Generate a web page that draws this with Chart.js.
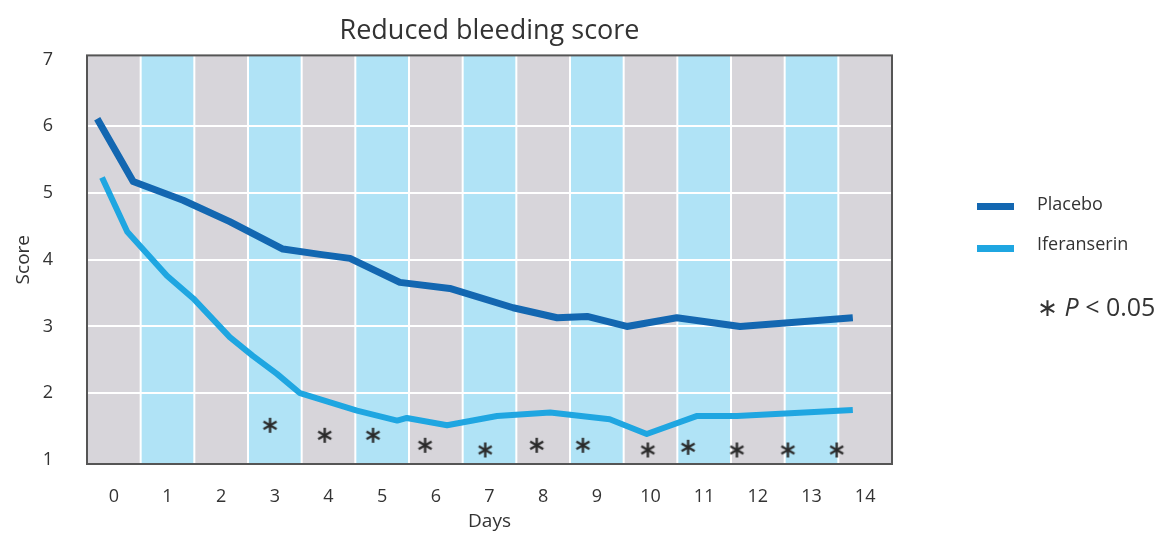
<!DOCTYPE html>
<html>
<head>
<meta charset="utf-8">
<script src="https://cdn.jsdelivr.net/npm/chart.js@4.4.1/dist/chart.umd.min.js"></script>
<style>
  body { margin: 0; background: #fff; font-family: "Open Sans", sans-serif; }
  #wrap { position: relative; width: 1164px; height: 540px; }
  #chart { position: absolute; left: 0; top: 0; }
  .sw { position: absolute; left: 977px; width: 37px; height: 7px; }
  .lg { position: absolute; left: 1037px; font-size: 18px; line-height: 18px; color: #333; white-space: nowrap; }
</style>
</head>
<body>
<div id="wrap">
  <canvas id="chart" width="980" height="540"></canvas>
  <div class="sw" style="top:203px;background:#1367b1"></div>
  <div class="lg" style="top:194px">Placebo</div>
  <div class="sw" style="top:245px;background:#1fa6e1"></div>
  <div class="lg" style="top:234px">Iferanserin</div>
  <div class="lg" style="top:294px;font-size:25px;line-height:25px">&#8727; <i>P</i> &lt; 0.05</div>
</div>
<script>
// days on the x axis, score on the y axis
const dayTicks = [0, 1, 2, 3, 4, 5, 6, 7, 8, 9, 10, 11, 12, 13, 14];
const scoreTicks = [1, 2, 3, 4, 5, 6, 7];

const placeboDays  = [-0.31, 0.36, 1.29, 2.16, 3.15, 3.84, 4.40, 5.33, 6.26, 7.44, 8.26, 8.82, 9.56, 10.49, 11.67, 13.77];
const placeboScore = [6.11, 5.17, 4.89, 4.57, 4.16, 4.08, 4.02, 3.66, 3.57, 3.28, 3.13, 3.15, 3.00, 3.13, 3.00, 3.13];

const iferDays  = [-0.22, 0.25, 0.99, 1.48, 2.16, 2.59, 3.04, 3.47, 4.53, 5.28, 5.46, 6.21, 7.14, 8.13, 9.24, 9.93, 10.87, 11.61, 13.77];
const iferScore = [5.23, 4.42, 3.76, 3.42, 2.84, 2.56, 2.29, 2.00, 1.74, 1.59, 1.63, 1.52, 1.66, 1.71, 1.61, 1.39, 1.66, 1.66, 1.75];

// significance markers (P < 0.05)
const sigDays  = [2.91, 3.93, 4.83, 5.80, 6.92, 7.88, 8.74, 9.95, 10.70, 11.61, 12.56, 13.47];
const sigScore = [1.52, 1.37, 1.37, 1.22, 1.15, 1.22, 1.22, 1.15, 1.19, 1.15, 1.15, 1.15];

const bandColors = ['#d7d5da', '#b0e3f6'];
const txt = '#333';
const fam = '"Open Sans", sans-serif';

const pts = (xs, ys) => xs.map((d, i) => ({ x: d, y: ys[i] }));

// six-armed asterisk used as point style
const star = document.createElement('canvas');
star.width = 17; star.height = 17;
(function () {
  const c = star.getContext('2d');
  c.strokeStyle = '#2a2a2a'; c.lineWidth = 2.4; c.lineCap = 'butt';
  [90, 30, 150].forEach(a => {
    const r = a * Math.PI / 180, dx = Math.cos(r) * 7.5, dy = Math.sin(r) * 7.5;
    c.beginPath(); c.moveTo(8.5 - dx, 8.5 - dy); c.lineTo(8.5 + dx, 8.5 + dy); c.stroke();
  });
})();

const bands = {
  id: 'bands',
  beforeDraw(chart) {
    const { ctx, chartArea: a, scales: { x } } = chart;
    ctx.save();
    dayTicks.forEach((d, i) => {
      const l = x.getPixelForValue(d - 0.5), r = x.getPixelForValue(d + 0.5);
      ctx.fillStyle = bandColors[i % 2];
      ctx.fillRect(l, a.top, r - l, a.bottom - a.top);
    });
    ctx.strokeStyle = '#fff';
    ctx.lineWidth = 2;
    dayTicks.slice(1).forEach(d => {
      const p = x.getPixelForValue(d - 0.5);
      ctx.beginPath(); ctx.moveTo(p, a.top); ctx.lineTo(p, a.bottom); ctx.stroke();
    });
    ctx.restore();
  },
  beforeDatasetsDraw(chart) {
    const { ctx, chartArea: a } = chart;
    ctx.save();
    ctx.strokeStyle = '#555';
    ctx.lineWidth = 2;
    ctx.strokeRect(a.left, a.top, a.right - a.left, a.bottom - a.top);
    ctx.restore();
  }
};

new Chart(document.getElementById('chart').getContext('2d'), {
  type: 'line',
  data: {
    datasets: [{
      label: 'Placebo',
      data: pts(placeboDays, placeboScore),
      borderColor: '#1367b1',
      borderWidth: 7,
      pointRadius: 0,
      borderJoinStyle: 'round'
    }, {
      label: 'Iferanserin',
      data: pts(iferDays, iferScore),
      borderColor: '#1fa6e1',
      borderWidth: 6,
      pointRadius: 0,
      borderJoinStyle: 'round'
    }, {
      label: 'P < 0.05',
      data: pts(sigDays, sigScore),
      showLine: false,
      pointStyle: star,
      pointRadius: 8
    }]
  },
  options: {
    responsive: false,
    animation: false,
    layout: { padding: { left: 9, right: 88, top: 0, bottom: 4 } },
    plugins: {
      legend: { display: false },
      tooltip: { enabled: false },
      title: {
        display: true,
        fullSize: false,
        text: 'Reduced bleeding score',
        color: txt,
        font: { family: fam, size: 27, weight: 'normal' },
        padding: { top: 15, bottom: 8 }
      }
    },
    scales: {
      x: {
        type: 'linear',
        min: -0.5,
        max: 14.5,
        afterBuildTicks: ax => { ax.ticks = dayTicks.map(v => ({ value: v })); },
        afterFit: s => { s.height = 72; },
        grid: { display: false, drawTicks: false },
        border: { display: false },
        ticks: { padding: 22, color: txt, font: { family: fam, size: 18 } },
        title: { display: true, text: 'Days', color: txt, font: { family: fam, size: 19 }, padding: { top: 6, bottom: 3 } }
      },
      y: {
        min: 0.94,
        max: 7.06,
        afterBuildTicks: ax => { ax.ticks = scoreTicks.map(v => ({ value: v })); },
        afterFit: s => { s.width = 78; },
        grid: {
          color: c => (c.tick && (c.tick.value === 1 || c.tick.value === 7)) ? 'rgba(0,0,0,0)' : '#fff',
          lineWidth: 2,
          drawTicks: false
        },
        border: { display: false },
        ticks: { padding: 34, color: txt, font: { family: fam, size: 18 } },
        title: { display: true, text: 'Score', color: txt, font: { family: fam, size: 19 }, padding: { top: 3, bottom: 10 } }
      }
    }
  },
  plugins: [bands]
});
</script>
</body>
</html>
